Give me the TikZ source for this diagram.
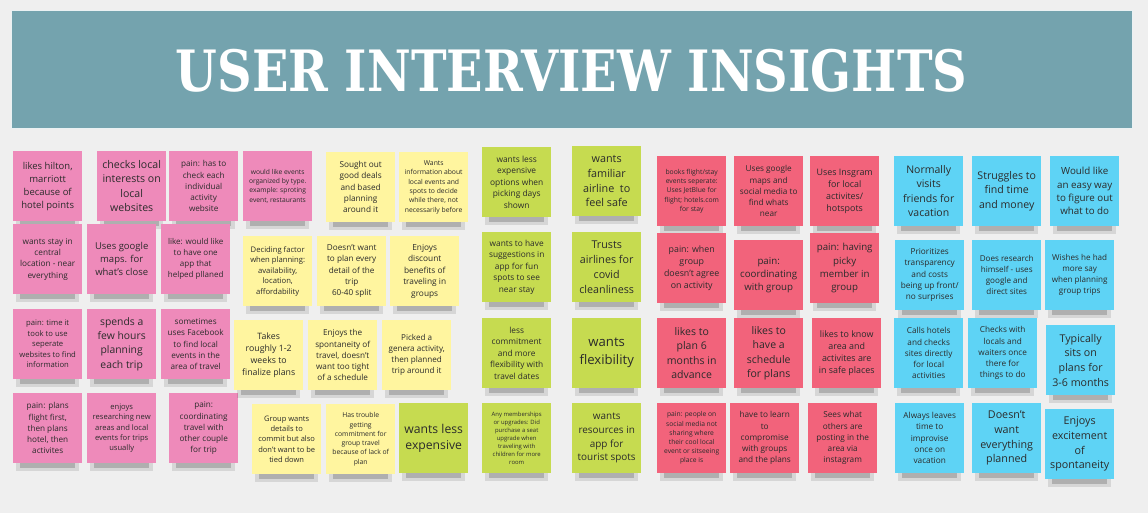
\documentclass[tikz,border=0pt]{standalone}
\usepackage{fontspec}
\setmainfont{Open Sans}
\newfontfamily\titlefont{DejaVu Serif}
\definecolor{bgc}{HTML}{EFEFEF}
\definecolor{banner}{HTML}{74A3AE}
\definecolor{pinkn}{HTML}{EE8ABA}
\definecolor{yelln}{HTML}{FFF59F}
\definecolor{greenn}{HTML}{C6DB50}
\definecolor{redn}{HTML}{F2637B}
\definecolor{bluen}{HTML}{5ED3F5}
\definecolor{notetext}{HTML}{2B2B2B}
\tikzset{
  note/.style={anchor=north west, minimum width=69, minimum height=70, inner sep=1pt, align=center, text=notetext},
  shade1/.style={fill=black, opacity=.10},
  shade2/.style={fill=black, opacity=.18}
}
\newcommand\sticky[6]{%
  \pgfmathsetmacro\fsz{#5/1.37}%
  \fill[shade1] (#2+3,#3+64) rectangle (#2+66,#3+78);
  \fill[shade2] (#2+7,#3+66) rectangle (#2+62,#3+75);
  \node[note, fill=#4, font=\fontsize{\fsz}{#5}\selectfont] (#1) at (#2,#3) {#6};
}
\begin{document}
\begin{tikzpicture}[x=1pt,y=-1pt]
\fill[bgc] (0,0) rectangle (1148,513);
\useasboundingbox (0,0) rectangle (1148,513);
\node[fill=banner, draw=white!85!banner, line width=0.6pt, anchor=north west, minimum width=1121, minimum height=118, inner sep=0] (banner) at (11,10) {};
\node[font=\titlefont\bfseries\fontsize{57}{60}\selectfont, text=white, inner sep=0] (title) at (571.5,71) {\scalebox{0.84}[1]{USER INTERVIEW INSIGHTS}};
% pink
\sticky{p1}{13}{151}{pinkn}{13}{likes hilton,\\ marriott\\ because of\\ hotel points}
\sticky{p2}{97}{151}{pinkn}{14.5}{checks local\\ interests on\\ local\\ websites}
\sticky{p3}{169}{151}{pinkn}{11.2}{pain: has to\\ check each\\ individual\\ activity\\ website}
\sticky{p4}{243}{151}{pinkn}{9.2}{would like events\\ organized by type.\\ example: sproting\\ event, restaurants}
\sticky{p5}{13}{224}{pinkn}{11.3}{wants stay in\\ central\\ location - near\\ everything}
\sticky{p6}{87}{224}{pinkn}{13}{Uses google\\ maps. for\\ what's close}
\sticky{p7}{161}{224}{pinkn}{11}{like: would like\\ to have one\\ app that\\ helped pllaned}
\sticky{p8}{13}{309}{pinkn}{10.5}{pain: time it\\ took to use\\ seperate\\ websites to find\\ information}
\sticky{p9}{87}{309}{pinkn}{14.2}{spends a\\ few hours\\ planning\\ each trip}
\sticky{p10}{161}{309}{pinkn}{11.2}{sometimes\\ uses Facebook\\ to find local\\ events in the\\ area of travel}
\sticky{p11}{13}{393}{pinkn}{11.2}{pain: plans\\ flight first,\\ then plans\\ hotel, then\\ activites}
\sticky{p12}{87}{393}{pinkn}{10.4}{enjoys\\ researching new\\ areas and local\\ events for trips\\ usually}
\sticky{p13}{169}{393}{pinkn}{11.2}{pain:\\ coordinating\\ travel with\\ other couple\\ for trip}
% yellow
\sticky{y1}{326}{152}{yelln}{11.3}{Sought out\\ good deals\\ and based\\ planning\\ around it}
\sticky{y2}{399}{152}{yelln}{9.3}{Wants\\ information about\\ local events and\\ spots to decide\\ while there, not\\ necessarily before}
\sticky{y3}{243}{236}{yelln}{10.5}{Deciding factor\\ when planning:\\ availability,\\ location,\\ affordability}
\sticky{y4}{317}{236}{yelln}{11.2}{Doesn't want\\ to plan every\\ detail of the\\ trip\\ 60-40 split}
\sticky{y5}{390}{236}{yelln}{11.4}{Enjoys\\ discount\\ benefits of\\ traveling in\\ groups}
\sticky{y6}{234}{320}{yelln}{12}{Takes\\ roughly 1-2\\ weeks to\\ finalize plans}
\sticky{y7}{308}{320}{yelln}{11.2}{Enjoys the\\ spontaneity of\\ travel, doesn't\\ want too tight\\ of a schedule}
\sticky{y8}{382}{320}{yelln}{11.1}{Picked a\\ genera activity,\\ then planned\\ trip around it}
\sticky{y9}{252}{404}{yelln}{10.3}{Group wants\\ details to\\ commit but also\\ don't want to be\\ tied down}
\sticky{y10}{326}{404}{yelln}{9.3}{Has trouble\\ getting\\ commitment for\\ group travel\\ because of lack of\\ plan}
\sticky{g0}{399}{403}{greenn}{16.7}{wants less\\ expensive}
% green
\sticky{g1}{482}{147}{greenn}{11.5}{wants less\\ expensive\\ options when\\ picking days\\ shown}
\sticky{g2}{572}{146}{greenn}{14.8}{wants\\ familiar\\ airline\ \ to\\ feel safe}
\sticky{g3}{482}{232}{greenn}{11.4}{wants to have\\ suggestions in\\ app for fun\\ spots to see\\ near stay}
\sticky{g4}{572}{232}{greenn}{14.7}{Trusts\\ airlines for\\ covid\\ cleanliness}
\sticky{g5}{482}{318}{greenn}{11.4}{less\\ commitment\\ and more\\ flexibility with\\ travel dates}
\sticky{g6}{572}{318}{greenn}{18}{wants\\ flexibility}
\sticky{g7}{482}{403}{greenn}{8.1}{Any memberships\\ or upgrades: Did\\ purchase a seat\\ upgrade when\\ traveling with\\ children for more\\ room}
\sticky{g8}{572}{403}{greenn}{13.6}{wants\\ resources in\\ app for\\ tourist spots}
% red
\sticky{r1}{657}{156}{redn}{9.3}{books flight/stay\\ events seperate:\\ Uses JetBlue for\\ flight; hotels.com\\ for stay}
\sticky{r2}{734}{156}{redn}{11.25}{Uses google\\ maps and\\ social media to\\ find whats\\ near}
\sticky{r3}{810}{156}{redn}{12.2}{Uses Insgram\\ for local\\ activites/\\ hotspots}
\sticky{r4}{657}{233}{redn}{12.1}{pain: when\\ group\\ doesn't agree\\ on activity}
\sticky{r5}{734}{240}{redn}{13.3}{pain:\\ coordinating\\ with group}
\sticky{r6}{810}{233}{redn}{13.3}{pain: having\\ picky\\ member in\\ group}
\sticky{r7}{657}{318}{redn}{14.4}{likes to\\ plan 6\\ months in\\ advance}
\sticky{r8}{734}{318}{redn}{14.4}{likes to\\ have a\\ schedule\\ for plans}
\sticky{r9}{812}{318}{redn}{12.2}{likes to know\\ area and\\ activites are\\ in safe places}
\sticky{r10}{657}{403}{redn}{9.2}{pain: people on\\ social media not\\ sharing where\\ their cool local\\ event or sitseeing\\ place is}
\sticky{r11}{730}{403}{redn}{11.3}{have to learn\\ to\\ compromise\\ with groups\\ and the plans}
\sticky{r12}{808}{403}{redn}{11.3}{Sees what\\ others are\\ posting in the\\ area via\\ instagram}
% blue
\sticky{b1}{894}{156}{bluen}{14.4}{Normally\\ visits\\ friends for\\ vacation}
\sticky{b2}{972}{156}{bluen}{14.5}{Struggles to\\ find time\\ and money}
\sticky{b3}{1050}{156}{bluen}{13.4}{Would like\\ an easy way\\ to figure out\\ what to do}
\sticky{b4}{895}{240}{bluen}{11.3}{Prioritizes\\ transparency\\ and costs\\ being up front/\\ no surprises}
\sticky{b5}{972}{240}{bluen}{11.1}{Does research\\ himself - uses\\ google and\\ direct sites}
\sticky{b6}{1045}{240}{bluen}{11.1}{Wishes he had\\ more say\\ when planning\\ group trips}
\sticky{b7}{894}{318}{bluen}{11.25}{Calls hotels\\ and checks\\ sites directly\\ for local\\ activities}
\sticky{b8}{968}{318}{bluen}{11.25}{Checks with\\ locals and\\ waiters once\\ there for\\ things to do}
\sticky{b9}{1046}{325}{bluen}{14.6}{Typically\\ sits on\\ plans for\\ 3-6 months}
\sticky{b10}{895}{403}{bluen}{11.3}{Always leaves\\ time to\\ improvise\\ once on\\ vacation}
\sticky{b11}{972}{403}{bluen}{14.7}{Doesn't\\ want\\ everything\\ planned}
\sticky{b12}{1045}{409}{bluen}{14.7}{Enjoys\\ excitement\\ of\\ spontaneity}
\end{tikzpicture}
\end{document}
